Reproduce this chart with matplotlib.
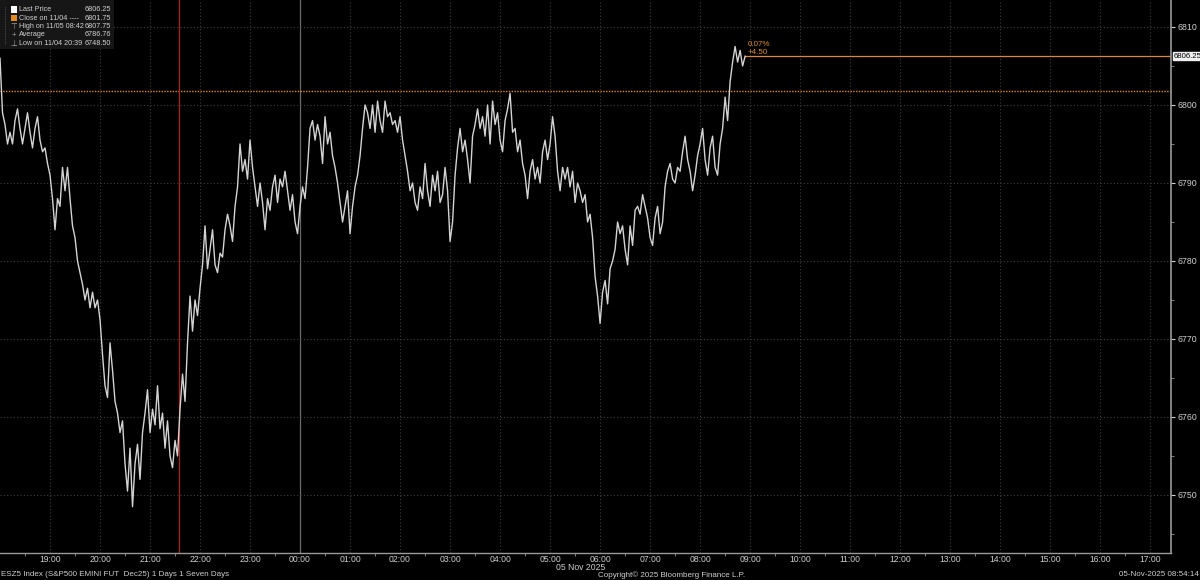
import numpy as np
import pandas as pd
import matplotlib
matplotlib.use("Agg")
import matplotlib.pyplot as plt
import matplotlib.dates as mdates
from matplotlib.patches import Rectangle
from matplotlib.ticker import MultipleLocator, FixedLocator

# ---------------- data ----------------
# ESZ5 price, sampled every 3 minutes from 18:00 (11/04) to 08:54 (11/05)
prices = [
    # 18:00
    6806, 6799, 6797.5, 6795, 6796.5, 6795, 6798, 6799.5, 6797, 6795,
    6797, 6799, 6796.5, 6794.5, 6797, 6798.5, 6795.5, 6794, 6794.5, 6792.5,
    # 19:00
    6791, 6788, 6784, 6788, 6787, 6792, 6789, 6792, 6788, 6784.5,
    6783, 6780, 6778.5, 6777, 6775, 6776.5, 6774, 6776, 6774, 6775,
    # 20:00
    6772.5, 6768, 6764, 6762.5, 6769.5, 6766, 6762, 6760.5, 6758, 6759.5,
    6754, 6750.5, 6756, 6748.5, 6754, 6756.5, 6752, 6758, 6760.5, 6763.5,
    # 21:00
    6758, 6761, 6759, 6764, 6758.5, 6760.5, 6756, 6759.5, 6755, 6753.5,
    6757, 6755, 6761, 6765.5, 6762, 6769.5, 6775.5, 6771, 6775, 6773,
    # 22:00
    6776.5, 6779.5, 6784.5, 6779, 6781.5, 6784, 6779.5, 6778.5, 6781, 6780.5,
    6784, 6786, 6784.5, 6782.5, 6787, 6789.5, 6795, 6791.5, 6793, 6790.5,
    # 23:00
    6795.5, 6792, 6789.5, 6787, 6790, 6787.5, 6784, 6788, 6786.5, 6789.5,
    6791, 6787.5, 6790.5, 6789.5, 6791.5, 6789, 6786.5, 6788.5, 6785, 6783.5,
    # 00:00
    6787, 6789.5, 6788, 6792, 6797, 6798, 6795.5, 6797.5, 6796, 6792.5,
    6798.5, 6795, 6796.5, 6793.5, 6792, 6790, 6787.5, 6785, 6787, 6789,
    # 01:00
    6783.5, 6787, 6789.5, 6791, 6793.5, 6797, 6800, 6799, 6797, 6800,
    6796.5, 6800.5, 6798, 6796.5, 6800.5, 6798.5, 6799, 6797.5, 6798, 6796.5,
    # 02:00
    6798.5, 6795.5, 6793.5, 6791.5, 6789, 6790, 6787.5, 6786.5, 6789.5, 6788,
    6792.5, 6789, 6787, 6791, 6789, 6791.5, 6787.5, 6788.5, 6792, 6789,
    # 03:00
    6782.5, 6785, 6791, 6794.5, 6797, 6794, 6795.5, 6793, 6790, 6796,
    6797.5, 6799.5, 6797, 6798.5, 6796, 6800, 6795, 6800.5, 6797.5, 6799,
    # 04:00
    6795.5, 6794, 6798, 6799.5, 6801.5, 6796.5, 6797, 6794, 6795.5, 6792.5,
    6791, 6788, 6791.5, 6793, 6790.5, 6792, 6790, 6794, 6795.5, 6793,
    # 05:00
    6795, 6798.5, 6796, 6791.5, 6789, 6792, 6790.5, 6792, 6789.5, 6791.5,
    6787.5, 6790, 6789, 6787.5, 6788.5, 6785, 6786, 6783, 6778, 6775.5,
    # 06:00
    6772, 6776, 6777.5, 6774.5, 6779, 6780, 6781.5, 6785, 6783.5, 6784.5,
    6781.5, 6779.5, 6784.5, 6782, 6786.5, 6787, 6786, 6788.5, 6787, 6785.5,
    # 07:00
    6783, 6782, 6785.5, 6787, 6783.5, 6785, 6789.5, 6791.5, 6792.5, 6790.5,
    6790, 6792, 6791.5, 6794, 6796, 6793, 6791.5, 6789, 6791, 6793.5,
    # 08:00
    6795, 6797, 6793, 6791, 6794.5, 6796, 6792, 6791, 6795, 6797,
    6801, 6798, 6803, 6805.5, 6807.5, 6805.5, 6807, 6805, 6806.25,
]
times = pd.date_range("2025-11-04 18:00", periods=len(prices), freq="3min")

close_prev = 6801.75
last_price = 6806.25
chg_pct, chg_abs = "0.07%", "+4.50"
x_start = pd.Timestamp("2025-11-04 18:00")
x_end = pd.Timestamp("2025-11-05 17:25")
marker_time = pd.Timestamp("2025-11-04 21:35")
hour_ticks = pd.date_range("2025-11-04 19:00", "2025-11-05 17:00", freq="1h")
hour_labels = [t.strftime("%H:%M") for t in hour_ticks]
y_ticks = [6750, 6760, 6770, 6780, 6790, 6800, 6810]

legend_labels = ["Last Price", "Close on 11/04 ----", "High on 11/05 08:42",
                 "Average", "Low on 11/04 20:39"]
legend_values = ["6806.25", "6801.75", "6807.75", "6786.76", "6748.50"]

# ---------------- figure ----------------
W, H = 1200, 580
plt.rcParams["font.family"] = ["Liberation Sans", "DejaVu Sans"]
fig = plt.figure(figsize=(W / 100, H / 100), dpi=100, facecolor="black")


def fx(px):
    return px / W


def fy(py):
    return 1 - py / H


ax = fig.add_axes([0, fy(553), fx(1171), 1 - fy(553)])
ax.set_facecolor("black")

x0 = mdates.date2num(x_start)
x1 = mdates.date2num(x_end)
ax.set_xlim(x0, x1)
ax.set_ylim(6742.56, 6813.46)

grid_c = "#3e3e3e"
for t in hour_ticks:
    if t.hour == 0:
        ax.axvline(t, color="#6a6a6a", lw=0.9, zorder=1)
    else:
        ax.axvline(t, color=grid_c, lw=0.8, ls=(0, (1, 2)), zorder=1)
for v in y_ticks:
    ax.axhline(v, color=grid_c, lw=0.8, ls=(0, (1, 2)), zorder=1)

ax.axhline(close_prev, color="#e08a1e", lw=1.0, ls=(0, (1, 1)), zorder=2)
ax.axvline(marker_time, color="#b02020", lw=0.9, zorder=2)
ax.plot([times[-1], x_end], [last_price, last_price], color="#e08a1e", lw=0.9, zorder=2)

ax.plot(times, prices, color="#d4d4d4", lw=1.0, zorder=3)

tx = mdates.date2num(times[-1]) + 0.0025
ax.text(tx, last_price + 1.55, chg_pct, color="#e08a1e", fontsize=5.8, ha="left", va="center")
ax.text(tx, last_price + 0.5, chg_abs, color="#e08a1e", fontsize=5.8, ha="left", va="center")

for s in ["top", "left"]:
    ax.spines[s].set_visible(False)
ax.spines["bottom"].set_color("#9a9a9a")
ax.spines["right"].set_color("#9a9a9a")
ax.spines["bottom"].set_linewidth(1.0)
ax.spines["right"].set_linewidth(1.2)

ax.yaxis.tick_right()
ax.set_yticks(y_ticks)
ax.set_yticklabels([str(v) for v in y_ticks])
ax.yaxis.set_minor_locator(MultipleLocator(5))
ax.tick_params(axis="y", which="major", colors="#cfcfcf", labelsize=6.3, length=3,
               direction="out", pad=2)
ax.tick_params(axis="y", which="minor", colors="#9a9a9a", length=2, direction="out")

ax.set_xticks(mdates.date2num(hour_ticks))
ax.set_xticklabels(hour_labels)
half_ticks = mdates.date2num(pd.date_range("2025-11-04 18:30", "2025-11-05 17:00", freq="1h"))
ax.xaxis.set_minor_locator(FixedLocator(half_ticks))
ax.tick_params(axis="x", which="major", colors="#cfcfcf", labelsize=6.2, length=0, pad=1.5)
ax.tick_params(axis="x", which="minor", colors="#9a9a9a", length=2, direction="out")

# last price tag on the right axis
fig.text(fx(1174), fy(56), "6806.25", fontsize=5.6, color="black", ha="left", va="center",
         bbox=dict(boxstyle="square,pad=0.12", fc="#f0f0f0", ec="#f0f0f0"))

# legend box
fig.patches.append(Rectangle((0, fy(49)), fx(114), 1 - fy(49), transform=fig.transFigure,
                             facecolor="#161616", edgecolor="none", zorder=5))
row_y = [9.5, 18, 26.5, 35, 43.5]
for lab, val, ry in zip(legend_labels, legend_values, row_y):
    fig.text(fx(19), fy(ry), lab, fontsize=5.2, color="#d0d0d0", ha="left", va="center", zorder=6)
    fig.text(fx(111), fy(ry), val, fontsize=5.2, color="#d0d0d0", ha="right", va="center", zorder=6)
fig.patches.append(Rectangle((fx(11), fy(12.5)), fx(6), fy(6.5) - fy(12.5), transform=fig.transFigure,
                             facecolor="white", edgecolor="none", zorder=6))
fig.patches.append(Rectangle((fx(11), fy(21)), fx(6), fy(15) - fy(21), transform=fig.transFigure,
                             facecolor="#e08a1e", edgecolor="none", zorder=6))
fig.text(fx(14), fy(26.5), "\u22a4", fontsize=5.5, color="#aaaaaa", ha="center", va="center",
         family="DejaVu Sans", zorder=6)
fig.text(fx(14), fy(35), "+", fontsize=5.5, color="#aaaaaa", ha="center", va="center", zorder=6)
fig.text(fx(14), fy(43.5), "\u22a5", fontsize=5.5, color="#aaaaaa", ha="center", va="center",
         family="DejaVu Sans", zorder=6)
fig.lines.append(plt.Line2D([fx(5), fx(5)], [fy(7), fy(44)], transform=fig.transFigure,
                            color="#555555", lw=0.6, ls=(0, (1, 1)), zorder=6))

# footer texts
fig.text(fx(1), fy(575), "ESZ5 Index (S&P500 EMINI FUT  Dec25) 1 Days 1 Seven Days",
         fontsize=5.8, color="#cfcfcf", ha="left", va="center")
fig.text(fx(556), fy(568), "05 Nov 2025", fontsize=6.2, color="#cfcfcf", ha="left", va="center")
fig.text(fx(598), fy(575), "Copyright\u00a9 2025 Bloomberg Finance L.P.", fontsize=5.8,
         color="#cfcfcf", ha="left", va="center")
fig.text(fx(1199), fy(575), "05-Nov-2025 08:54:14", fontsize=5.8, color="#cfcfcf",
         ha="right", va="center")

fig.savefig("out.png", dpi=100, facecolor="black")
